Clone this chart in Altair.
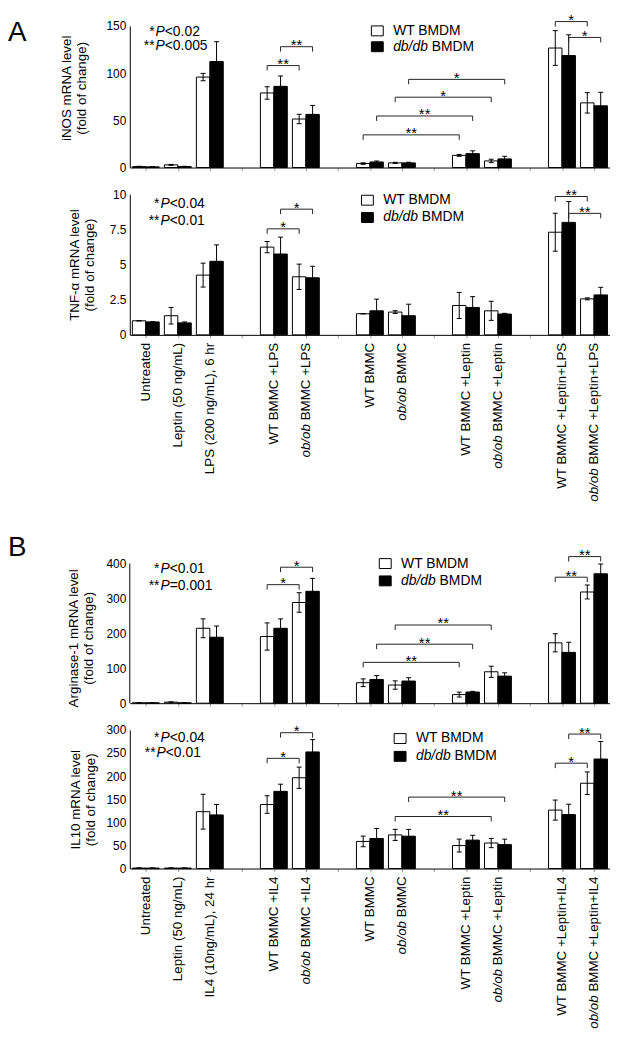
import altair as alt
import pandas as pd

FONT = "Liberation Sans"

# ---------------- data ----------------
SLOTS = [0, 1, 2, 4, 5, 7, 8, 10, 11, 13, 14]
N_SLOTS = 15
SERIES = ["WT BMDM", "db/db BMDM"]

CATS_A = ["Untreated", "Leptin (50 ng/mL)", "LPS (200 ng/mL), 6 hr",
          "WT BMMC +LPS", "ob/ob BMMC +LPS", "WT BMMC", "ob/ob BMMC",
          "WT BMMC +Leptin", "ob/ob BMMC +Leptin",
          "WT BMMC +Leptin+LPS", "ob/ob BMMC +Leptin+LPS"]
CATS_B = ["Untreated", "Leptin (50 ng/mL)", "IL4 (10ng/mL), 24 hr",
          "WT BMMC +IL4", "ob/ob BMMC +IL4", "WT BMMC", "ob/ob BMMC",
          "WT BMMC +Leptin", "ob/ob BMMC +Leptin",
          "WT BMMC +Leptin+IL4", "ob/ob BMMC +Leptin+IL4"]

INOS_WT = [1.0, 2.8, 95.8, 79.0, 51.4, 4.2, 4.9, 12.9, 7.0, 126.6, 68.5]
INOS_WT_ERR = [0.3, 0.5, 3.9, 6.6, 5.0, 0.8, 0.6, 1.0, 1.8, 18.4, 10.8]
INOS_DB = [0.7, 1.0, 112.3, 86.0, 56.3, 5.9, 4.9, 14.7, 9.1, 118.6, 65.4]
INOS_DB_ERR = [0.2, 0.3, 21.0, 11.0, 9.5, 1.0, 0.7, 3.0, 2.8, 22.0, 14.3]

TNF_WT = [1.0, 1.36, 4.25, 6.24, 4.13, 1.5, 1.62, 2.09, 1.71, 7.3, 2.56]
TNF_WT_ERR = [0.0, 0.59, 0.85, 0.4, 0.9, 0.0, 0.1, 0.93, 0.68, 1.35, 0.07]
TNF_DB = [0.92, 0.85, 5.23, 5.75, 4.06, 1.71, 1.36, 1.95, 1.48, 8.0, 2.84]
TNF_DB_ERR = [0.0, 0.07, 1.17, 1.2, 0.82, 0.83, 0.82, 0.77, 0.05, 1.48, 0.54]

ARG_WT = [1.0, 3.0, 214.6, 191.0, 288.5, 58.6, 52.0, 24.6, 90.0, 173.0, 318.6]
ARG_WT_ERR = [0.5, 0.5, 27.0, 39.0, 28.0, 11.0, 12.0, 7.0, 16.0, 26.0, 20.0]
ARG_DB = [1.0, 1.0, 189.0, 214.6, 320.6, 68.0, 63.4, 32.0, 77.5, 145.6, 370.7]
ARG_DB_ERR = [0.3, 0.3, 32.0, 27.0, 37.0, 11.0, 9.6, 2.0, 9.5, 29.0, 28.0]

IL10_WT = [1.0, 1.0, 123.0, 138.5, 196.5, 58.7, 72.8, 49.7, 55.2, 126.5, 184.6]
IL10_WT_ERR = [0.3, 0.3, 37.7, 19.0, 23.0, 11.5, 12.0, 14.0, 10.0, 21.7, 24.5]
IL10_DB = [1.0, 1.0, 116.0, 167.0, 252.4, 65.0, 70.0, 61.5, 51.8, 116.8, 237.0]
IL10_DB_ERR = [0.3, 0.3, 22.5, 15.5, 26.6, 21.7, 14.7, 10.5, 11.8, 22.4, 37.8]

# brackets: (category a, category b, series, level, label)
INOS_BR = [(3, 4, "WT", 108, "**"), (3, 4, "db", 128, "**"),
           (5, 7, "WT", 34.6, "**"), (5, 7, "db", 54.6, "**"),
           (6, 8, "WT", 74.5, "*"), (6, 8, "db", 93.4, "*"),
           (9, 10, "WT", 154.6, "*"), (9, 10, "db", 137.8, "*")]
TNF_BR = [(3, 4, "WT", 7.54, "*"), (3, 4, "db", 8.94, "*"),
          (9, 10, "WT", 9.84, "**"), (9, 10, "db", 8.64, "**")]
ARG_BR = [(3, 4, "WT", 339.6, "*"), (3, 4, "db", 389.6, "*"),
          (5, 7, "WT", 117, "**"), (5, 7, "db", 169, "**"),
          (6, 8, "WT", 224, "**"),
          (9, 10, "WT", 361, "**"), (9, 10, "db", 420, "**")]
IL10_BR = [(3, 4, "WT", 238.5, "*"), (3, 4, "db", 294, "*"),
           (6, 8, "WT", 112.6, "**"), (6, 8, "db", 154.6, "**"),
           (9, 10, "WT", 228, "*"), (9, 10, "db", 291, "**")]

# ---------------- helpers ----------------
CW = {' ': 278, '(': 333, ')': 333, '+': 584, ',': 278, '-': 333, '.': 278,
      '/': 278, '<': 584, '=': 584, 'A': 667, 'B': 667, 'C': 722, 'D': 722,
      'E': 667, 'I': 278, 'L': 556, 'M': 833, 'N': 722, 'P': 667, 'S': 667,
      'T': 611, 'U': 722, 'W': 944, 'a': 556, 'b': 556, 'd': 556, 'e': 556,
      'g': 556, 'h': 556, 'i': 222, 'l': 222, 'm': 833, 'n': 556, 'o': 556,
      'p': 556, 'r': 333, 't': 278}


def tw(s, size):
    return sum(CW.get(c, 556) for c in s) / 1000.0 * size


ONE = pd.DataFrame({"k": [0]})
LBL_SIZE = 13.5
TICK = 3
LPAD = 5
W = 485


def txt(s, x, y, size=14, style="normal", align="left", baseline="middle"):
    return alt.Chart(ONE).mark_text(
        text=s, font=FONT, fontSize=size, fontStyle=style, align=align,
        baseline=baseline, color="black"
    ).encode(x=alt.value(x), y=alt.value(y))


def square(x0, y0, fill):
    return alt.Chart(ONE).mark_rect(fill=fill, stroke="black", strokeWidth=1).encode(
        x=alt.value(x0), x2=alt.value(x0 + 12), y=alt.value(y0), y2=alt.value(y0 + 10))


def build_bars(wt, wt_err, db, db_err):
    rows = []
    for i, s in enumerate(SLOTS):
        for k, (v, e) in enumerate([(wt[i], wt_err[i]), (db[i], db_err[i])]):
            x0 = s + 0.08 + 0.42 * k
            rows.append(dict(series=SERIES[k], x0=x0, x1=x0 + 0.42, xc=x0 + 0.21,
                             v=v, base=0.0, lo=v - e, hi=v + e))
    return pd.DataFrame(rows)


def build_brackets(brs, ymax, h):
    drop = 5.0 * ymax / h
    rows = []
    for a, b, ser, lvl, lab in brs:
        off = 0.29 if ser == "WT" else 0.71
        xa, xb = SLOTS[a] + off, SLOTS[b] + off
        rows.append(dict(xa=xa, xb=xb, xm=(xa + xb) / 2, y=lvl, ylo=lvl - drop, label=lab))
    return pd.DataFrame(rows)


def panel(cats, wt, wt_err, db, db_err, ymax, yticks, yfmt, h, title, title_x, title_dy,
          brs, leg, ptexts, show_labels, letter=None, extra=0):
    # "extra" = empty room kept above the plotted range (the axis stops at ymax)
    htot = h + extra
    dom_max = ymax * htot / h
    xs = alt.Scale(domain=[0, N_SLOTS], nice=False, zero=False)
    ys = alt.Scale(domain=[0, dom_max], nice=False, zero=True)
    tick_vals = [i + 0.5 for i in range(N_SLOTS)]
    xaxis = alt.Axis(values=tick_vals, tickSize=TICK, title=None, grid=False, labels=False,
                     domainColor="black", tickColor="#999999", domainWidth=1)
    yaxis = alt.Axis(values=yticks, format=yfmt, title=title, titleX=title_x,
                     titleY=extra + h / 2 + title_dy, titleAngle=270, titleAlign="center",
                     titleBaseline="middle", titleFontSize=13.5, titleFontWeight="normal",
                     titleFont=FONT, titleLineHeight=15, titleColor="black",
                     ticks=False, labelPadding=4, labelFontSize=12, labelFont=FONT,
                     labelColor="black", grid=False, domain=(extra == 0),
                     domainColor="black", domainWidth=1)

    def X(f):
        return alt.X(f, scale=xs, axis=xaxis)

    def Y(f):
        return alt.Y(f, scale=ys, axis=yaxis)

    bdf = build_bars(wt, wt_err, db, db_err)
    bars = alt.Chart(bdf).mark_rect(stroke="black", strokeWidth=1).encode(
        x=X("x0:Q"), x2="x1:Q", y=Y("v:Q"), y2="base:Q",
        fill=alt.Fill("series:N", scale=alt.Scale(domain=SERIES, range=["white", "black"]),
                      legend=None))
    err = alt.Chart(bdf).mark_rule(color="black", strokeWidth=1).encode(
        x=X("xc:Q"), y=Y("lo:Q"), y2="hi:Q")
    cap_hi = alt.Chart(bdf).mark_rule(color="black", strokeWidth=1, xOffset=-2.5, x2Offset=2.5).encode(
        x=X("xc:Q"), x2="xc:Q", y=Y("hi:Q"))
    cap_lo = alt.Chart(bdf).mark_rule(color="black", strokeWidth=1, xOffset=-2.5, x2Offset=2.5).encode(
        x=X("xc:Q"), x2="xc:Q", y=Y("lo:Q"))

    kdf = build_brackets(brs, ymax, h)
    bc = "#222222"
    br_h = alt.Chart(kdf).mark_rule(color=bc, strokeWidth=1).encode(
        x=X("xa:Q"), x2="xb:Q", y=Y("y:Q"))
    br_l = alt.Chart(kdf).mark_rule(color=bc, strokeWidth=1).encode(
        x=X("xa:Q"), y=Y("y:Q"), y2="ylo:Q")
    br_r = alt.Chart(kdf).mark_rule(color=bc, strokeWidth=1).encode(
        x=X("xb:Q"), y=Y("y:Q"), y2="ylo:Q")
    stars = alt.Chart(kdf).mark_text(font=FONT, fontSize=15, baseline="alphabetic",
                                     align="center", dy=3.5, color="black").encode(
        x=X("xm:Q"), y=Y("y:Q"), text="label:N")

    layers = [bars, err, cap_hi, cap_lo, br_h, br_l, br_r, stars]

    if extra:
        # y-axis line only over the plotted range
        layers.append(alt.Chart(pd.DataFrame({"y0": [0.0], "y1": [float(ymax)]}))
                      .mark_rule(color="black", strokeWidth=1)
                      .encode(x=alt.value(0), y=Y("y0:Q"), y2="y1:Q"))

    # category labels (rotated), "ob/ob" in italics
    if show_labels:
        ytop = htot + TICK + LPAD
        rows, irows = [], []
        for c, s in zip(cats, SLOTS):
            if c.startswith("ob/ob "):
                rest = c[6:]
                rows.append(dict(xc=s + 0.5, t=rest))
                irows.append(dict(xc=s + 0.5, t="ob/ob",
                                  yp=ytop + tw(rest, LBL_SIZE) + tw(" ", LBL_SIZE)))
            else:
                rows.append(dict(xc=s + 0.5, t=c))
        layers.append(alt.Chart(pd.DataFrame(rows)).mark_text(
            font=FONT, fontSize=LBL_SIZE, angle=270, align="right", baseline="middle",
            color="black").encode(x=X("xc:Q"), y=alt.value(ytop), text="t:N"))
        for r in irows:
            layers.append(alt.Chart(pd.DataFrame([r])).mark_text(
                font=FONT, fontSize=LBL_SIZE, fontStyle="italic", angle=270, align="right",
                baseline="middle", color="black").encode(
                x=X("xc:Q"), y=alt.value(r["yp"]), text="t:N"))

    # legend
    lx, ly1, ly2, tx = leg
    ly1 += extra
    ly2 += extra
    layers += [square(lx, ly1 - 5, "white"), square(lx, ly2 - 5, "black"),
               txt("WT BMDM", tx, ly1), txt("db/db", tx, ly2, style="italic"),
               txt("BMDM", tx + tw("db/db ", 14), ly2)]

    # p-value notes
    for stars_s, rest, px, py in ptexts:
        py += extra
        layers += [txt(stars_s, px - 1, py, align="right"),
                   txt("P", px, py, style="italic"),
                   txt(rest, px + tw("P", 14), py)]

    if letter:
        layers.append(txt(letter[0], -123, letter[1] + extra, size=28, baseline="alphabetic"))

    return alt.layer(*layers).properties(width=W, height=htot)


A1 = panel(CATS_A, INOS_WT, INOS_WT_ERR, INOS_DB, INOS_DB_ERR, 150, [0, 50, 100, 150], "d",
           143, ["iNOS mRNA level", "(fold of change)"], -63.5, -9,
           INOS_BR, (244, 5, 21, 266), [("*", "<0.02", 26, 5.7), ("**", "<0.005", 26, 20)],
           False, letter=("A", 15))
A2 = panel(CATS_A, TNF_WT, TNF_WT_ERR, TNF_DB, TNF_DB_ERR, 10, [0, 2.5, 5, 7.5, 10], ".1~f",
           142, ["TNF-\u03b1 mRNA level", "(fold of change)"], -56, 0,
           TNF_BR, (234, 6, 23.5, 256), [("*", "<0.04", 31, 10), ("**", "<0.01", 31, 27)],
           True)
B1 = panel(CATS_B, ARG_WT, ARG_WT_ERR, ARG_DB, ARG_DB_ERR, 400, [0, 100, 200, 300, 400], "d",
           141, ["Arginase-1 mRNA level", "(fold of change)"], -57, 4.5,
           ARG_BR, (252, 0, 17.5, 274), [("*", "<0.01", 31, 6), ("**", "=0.001", 31, 23)],
           False, letter=("B", -8), extra=204)
B2 = panel(CATS_B, IL10_WT, IL10_WT_ERR, IL10_DB, IL10_DB_ERR, 300,
           [0, 50, 100, 150, 200, 250, 300], "d",
           140, ["IL10 mRNA level", "(fold of change)"], -55, 0,
           IL10_BR, (267, 8.7, 26.7, 289), [("*", "<0.04", 31, 8.7), ("**", "<0.01", 27, 23.3)],
           True)

chart = alt.vconcat(A1, A2, B1, B2, spacing=27, bounds="flush").properties(
    padding=0, background="white"
).configure(font=FONT).configure_view(stroke=None)

chart.save("out.html", embed_options={"renderer": "svg", "actions": False})
